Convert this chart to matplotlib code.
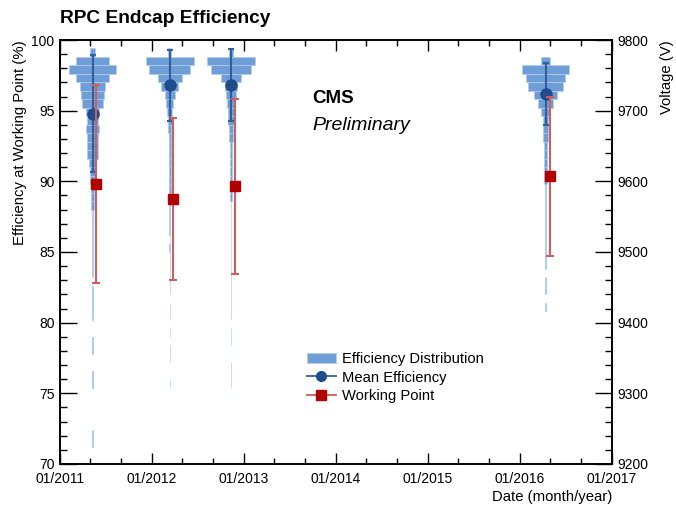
import matplotlib
matplotlib.use('Agg')
import matplotlib.pyplot as plt
import matplotlib.dates as mdates
from matplotlib.patches import Patch
from matplotlib.lines import Line2D
from matplotlib.ticker import MultipleLocator
import numpy as np
from datetime import date

plt.rcParams['font.family'] = ['Liberation Sans', 'DejaVu Sans']

# measurement campaigns
dist_dates = [date(2011, 5, 10), date(2012, 3, 12), date(2012, 11, 10), date(2016, 4, 12)]
mean_eff = [94.8, 96.8, 96.8, 96.2]
mean_err = [4.15, 2.5, 2.55, 2.2]

wp_dates = [date(2011, 5, 25), date(2012, 3, 25), date(2012, 11, 25), date(2016, 4, 28)]
wp_volt = [9596, 9575, 9593, 9607]
wp_err = [140, 115, 124, 112]

# efficiency distributions, relative counts per 0.6 % bin, from the 99.4-100 bin downwards
hist_2011 = [0, 12, 67, 100, 71, 54, 50, 42, 28, 25,
             29, 25, 21, 25, 14, 11, 10, 8, 5, 5,
             4, 4, 3, 1, 2, 1, 2, 1, 0, 2,
             1, 1, 1, 0, 0, 2, 2, 0, 0, 1,
             1, 0, 0, 0, 0, 0, 1, 1, 0, 0]
hist_2012a = [0, 7, 100, 86, 49, 35, 21, 14, 11, 8,
              7, 5, 5, 4, 4, 4, 3, 3, 3, 2,
              2, 2, 2, 1, 2, 1, 1, 1, 1, 1,
              0, 1, 1, 0, 1, 0, 1, 1, 0, 0,
              1, 0, 0, 0, 0, 0, 0, 0, 0, 0]
hist_2012b = [0, 8, 100, 83, 42, 26, 20, 17, 14, 11,
              8, 7, 5, 5, 4, 4, 3, 3, 3, 2,
              2, 2, 2, 2, 1, 2, 1, 1, 1, 1,
              1, 1, 1, 0, 1, 1, 0, 0, 1, 1,
              1, 0, 0, 0, 0, 0, 0, 0, 0, 0]
hist_2016 = [0, 0, 19, 100, 83, 75, 48, 32, 19, 12,
             12, 11, 8, 7, 5, 5, 5, 4, 3, 2,
             2, 1, 1, 1, 1, 1, 1, 0, 1, 1,
             0, 1, 0, 0, 0, 0, 0, 0, 0, 0,
             0, 0, 0, 0, 0, 0, 0, 0, 0, 0]
hists = [hist_2011, hist_2012a, hist_2012b, hist_2016]

bin_w = 0.6
bin_low = 99.4 - bin_w * np.arange(50)
days_per_count = 0.95

fig = plt.figure(figsize=(6.76, 5.11), dpi=100)
ax = fig.add_axes([0.0888, 0.092, 0.8165, 0.8297])

hist_face = '#6f9ed6'
hist_edge = '#b3cdee'
for d, h in zip(dist_dates, hists):
    c = mdates.date2num(d)
    h = np.array(h, dtype=float)
    m = h > 0
    hw = h[m] * days_per_count
    ax.barh(bin_low[m] + bin_w / 2, 2 * hw, left=c - hw, height=bin_w,
            color=hist_face, edgecolor=hist_edge, linewidth=0.5, zorder=1)

ax.errorbar(mdates.date2num(dist_dates), mean_eff, yerr=mean_err, fmt='o',
            color='#1f4d8c', ecolor='#2f5f9f', elinewidth=1.5, capsize=2.5,
            capthick=1.5, markersize=8, zorder=3)

ax.set_ylim(70, 100)
ax.set_xlim(mdates.date2num(date(2011, 1, 1)), mdates.date2num(date(2017, 1, 1)))
ax.xaxis.set_major_locator(mdates.YearLocator())
ax.xaxis.set_minor_locator(mdates.MonthLocator(bymonth=[5, 9]))
ax.xaxis.set_major_formatter(mdates.DateFormatter('%m/%Y'))
ax.yaxis.set_major_locator(MultipleLocator(5))
ax.yaxis.set_minor_locator(MultipleLocator(1))

ax2 = ax.twinx()
ax2.errorbar(mdates.date2num(wp_dates), wp_volt, yerr=wp_err, fmt='s',
             color='#b00000', ecolor='#cf5f5f', elinewidth=1.5, capsize=3,
             capthick=1.5, markersize=7, zorder=4)
ax2.set_ylim(9200, 9800)
ax2.yaxis.set_major_locator(MultipleLocator(100))
ax2.yaxis.set_minor_locator(MultipleLocator(20))

for a in (ax, ax2):
    for s in a.spines.values():
        s.set_linewidth(1.2)
ax.tick_params(axis='x', which='both', direction='in', top=True, bottom=True,
               labelsize=10, pad=6, width=1.0)
ax.tick_params(axis='x', which='major', length=8)
ax.tick_params(axis='x', which='minor', length=4)
ax.tick_params(axis='y', which='both', direction='in', left=True, right=False,
               labelsize=10, pad=4, width=1.0)
ax.tick_params(axis='y', which='major', length=12.5)
ax.tick_params(axis='y', which='minor', length=5)
ax2.tick_params(axis='y', which='both', direction='in', right=True,
                labelsize=10, pad=4, width=1.0)
ax2.tick_params(axis='y', which='major', length=12.5)
ax2.tick_params(axis='y', which='minor', length=5)

ax.set_ylabel('Efficiency at Working Point (%)', fontsize=10.7, loc='top', labelpad=3)
ax2.set_ylabel('Voltage (V)', fontsize=10.7, loc='top', labelpad=8)
ax.set_xlabel('Date (month/year)', fontsize=10.7, loc='right', labelpad=3)

fig.text(0.0888, 0.955, 'RPC Endcap Efficiency', fontsize=13.8, fontweight='bold',
         va='baseline', ha='left')
ax.text(0.4565, 0.861, 'CMS', transform=ax.transAxes, fontsize=13.5,
        fontweight='bold', va='center', ha='left')
ax.text(0.4565, 0.799, 'Preliminary', transform=ax.transAxes, fontsize=14,
        fontstyle='italic', va='center', ha='left')

handles = [
    Patch(facecolor=hist_face, edgecolor=hist_edge, linewidth=0.6),
    Line2D([], [], color='#2f5f9f', marker='o', markersize=7,
           markerfacecolor='#1f4d8c', markeredgecolor='#1f4d8c', lw=1.3),
    Line2D([], [], color='#cf5f5f', marker='s', markersize=6.5,
           markerfacecolor='#b00000', markeredgecolor='#b00000', lw=1.3),
]
labels = ['Efficiency Distribution', 'Mean Efficiency', 'Working Point']
ax2.legend(handles, labels, loc='upper left', bbox_to_anchor=(0.447, 0.263),
           frameon=False, fontsize=10.6, borderpad=0, handlelength=2.0,
           handletextpad=0.4, labelspacing=0.28, borderaxespad=0)

fig.savefig('out.png', dpi=100)
